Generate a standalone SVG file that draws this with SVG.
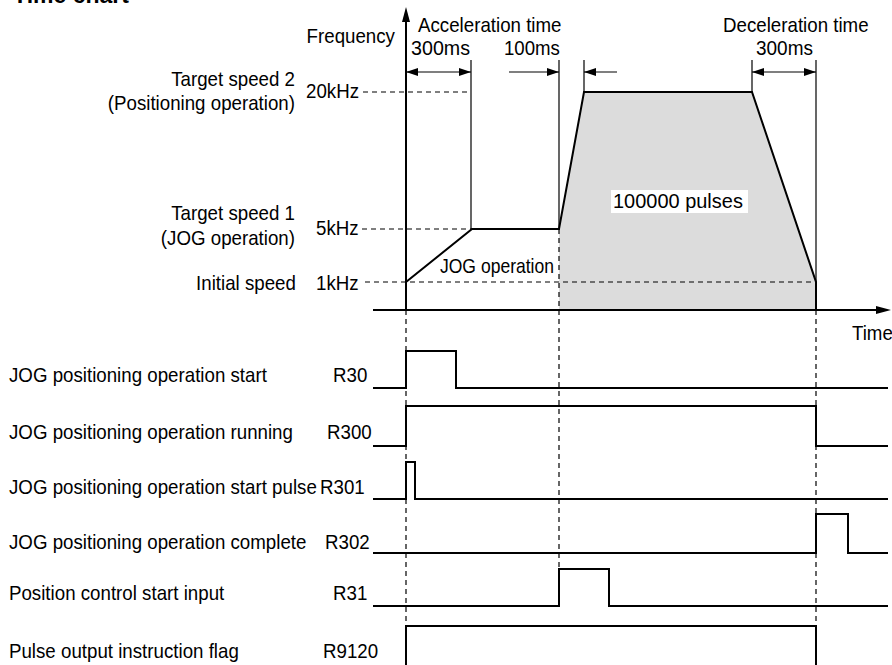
<svg xmlns="http://www.w3.org/2000/svg" width="892" height="665" viewBox="0 0 892 665">
<style>
text{font-family:"Liberation Sans",Arial,sans-serif;font-size:19.6px;fill:#000}
.title{font-size:23px;font-weight:bold}
.e{text-anchor:end}
.thick{fill:none;stroke:#000;stroke-width:2}
.thin{fill:none;stroke:#000;stroke-width:1.2}
.dash{fill:none;stroke:#000;stroke-width:1.2;stroke-dasharray:5 4}
.ah{fill:#000}
</style>
<defs>
<marker id="arr" viewBox="0 0 12 8" refX="12" refY="4" markerWidth="12" markerHeight="8" markerUnits="userSpaceOnUse" orient="auto-start-reverse">
<path d="M0,0 L12,4 L0,8 Z" fill="#000"/>
</marker>
</defs>
<rect width="892" height="665" fill="#fff"/>
<text class="title" x="13" y="3">Time chart</text>

<g id="chart">
<polygon points="559,310 559,229 584,92 752,92 816,282 816,310" fill="#dcdcdc"/>
<rect x="611" y="190" width="137" height="23" fill="#fff"/>
<text transform="scale(0.955 1)" x="641.9" y="208" textLength="136" lengthAdjust="spacingAndGlyphs">100000 pulses</text>
</g>

<g id="connectors">
<line class="dash" x1="363" y1="92" x2="467" y2="92"/>
<line class="dash" x1="362" y1="229" x2="472" y2="229"/>
<line class="dash" x1="365" y1="282" x2="816" y2="282"/>
<line class="dash" x1="406" y1="310" x2="406" y2="626"/>
<line class="dash" x1="559" y1="229" x2="559" y2="569"/>
<line class="dash" x1="816" y1="310" x2="816" y2="626"/>
<line class="thin" x1="471" y1="60" x2="471" y2="229"/>
<line class="thin" x1="559" y1="60" x2="559" y2="229"/>
<line class="thin" x1="584" y1="60" x2="584" y2="92"/>
<line class="thin" x1="752" y1="60" x2="752" y2="92"/>
<line class="thin" x1="816" y1="60" x2="816" y2="282"/>
<line class="thin" x1="406" y1="72" x2="471" y2="72" stroke-width="1.5" marker-start="url(#arr)" marker-end="url(#arr)"/>
<line class="thin" x1="509" y1="72" x2="559" y2="72" stroke-width="1.5" marker-end="url(#arr)"/>
<line class="thin" x1="617" y1="72" x2="584" y2="72" stroke-width="1.5" marker-end="url(#arr)"/>
<line class="thin" x1="752" y1="72" x2="816" y2="72" stroke-width="1.5" marker-start="url(#arr)" marker-end="url(#arr)"/>
<line class="thick" x1="406" y1="310" x2="406" y2="20"/>
<polygon class="ah" points="406,7 402,22 410,22"/>
<line class="thick" x1="373" y1="310" x2="878" y2="310"/>
<polygon class="ah" points="891,310 876,306 876,314"/>
<polyline class="thick" points="406,282 472,229 559,229 584,92 752,92 816,282 816,310"/>
</g>

<g id="labels" transform="scale(0.955 1)">
<text class="e" x="413.6" y="43">Frequency</text>
<text x="437.7" y="32">Acceleration time</text>
<text x="430.4" y="55" textLength="61.8" lengthAdjust="spacingAndGlyphs">300ms</text>
<text x="527.7" y="55" textLength="58.6" lengthAdjust="spacingAndGlyphs">100ms</text>
<text x="757.1" y="32">Deceleration time</text>
<text x="791.6" y="55" textLength="59.7" lengthAdjust="spacingAndGlyphs">300ms</text>
<text class="e" x="308.9" y="86">Target speed 2</text>
<text class="e" x="308.9" y="110">(Positioning operation)</text>
<text x="320.4" y="98">20kHz</text>
<text class="e" x="308.9" y="220">Target speed 1</text>
<text class="e" x="308.9" y="245">(JOG operation)</text>
<text x="330.9" y="235">5kHz</text>
<text class="e" x="309.9" y="290">Initial speed</text>
<text x="330.9" y="290">1kHz</text>
<text x="460.7" y="273" textLength="119.4" lengthAdjust="spacingAndGlyphs">JOG operation</text>
<text x="892.1" y="340">Time</text>
</g>

<g id="sig-r30">
<text transform="scale(0.955 1)" x="9.4" y="382">JOG positioning operation start</text>
<text transform="scale(0.955 1)" x="348.7" y="382">R30</text>
<polyline class="thick" points="373,388 406,388 406,351 456,351 456,388 888,388"/>
</g>
<g id="sig-r300">
<text transform="scale(0.955 1)" x="9.4" y="439">JOG positioning operation running</text>
<text transform="scale(0.955 1)" x="342.4" y="439">R300</text>
<polyline class="thick" points="373,446 406,446 406,406 816,406 816,446 888,446"/>
</g>
<g id="sig-r301">
<text transform="scale(0.955 1)" x="9.4" y="494">JOG positioning operation start pulse</text>
<text transform="scale(0.955 1)" x="335.1" y="494">R301</text>
<polyline class="thick" points="373,499 406,499 406,462 415,462 415,499 888,499"/>
</g>
<g id="sig-r302">
<text transform="scale(0.955 1)" x="9.4" y="549">JOG positioning operation complete</text>
<text transform="scale(0.955 1)" x="340.3" y="549">R302</text>
<polyline class="thick" points="373,553 816,553 816,514 848,514 848,553 888,553"/>
</g>
<g id="sig-r31">
<text transform="scale(0.955 1)" x="9.4" y="600">Position control start input</text>
<text transform="scale(0.955 1)" x="348.7" y="600">R31</text>
<polyline class="thick" points="373,606 559,606 559,569 609,569 609,606 888,606"/>
</g>
<g id="sig-r9120">
<text transform="scale(0.955 1)" x="9.4" y="658">Pulse output instruction flag</text>
<text transform="scale(0.955 1)" x="338.2" y="658">R9120</text>
<polyline class="thick" points="406,667 406,626 816,626 816,667"/>
</g>
</svg>
